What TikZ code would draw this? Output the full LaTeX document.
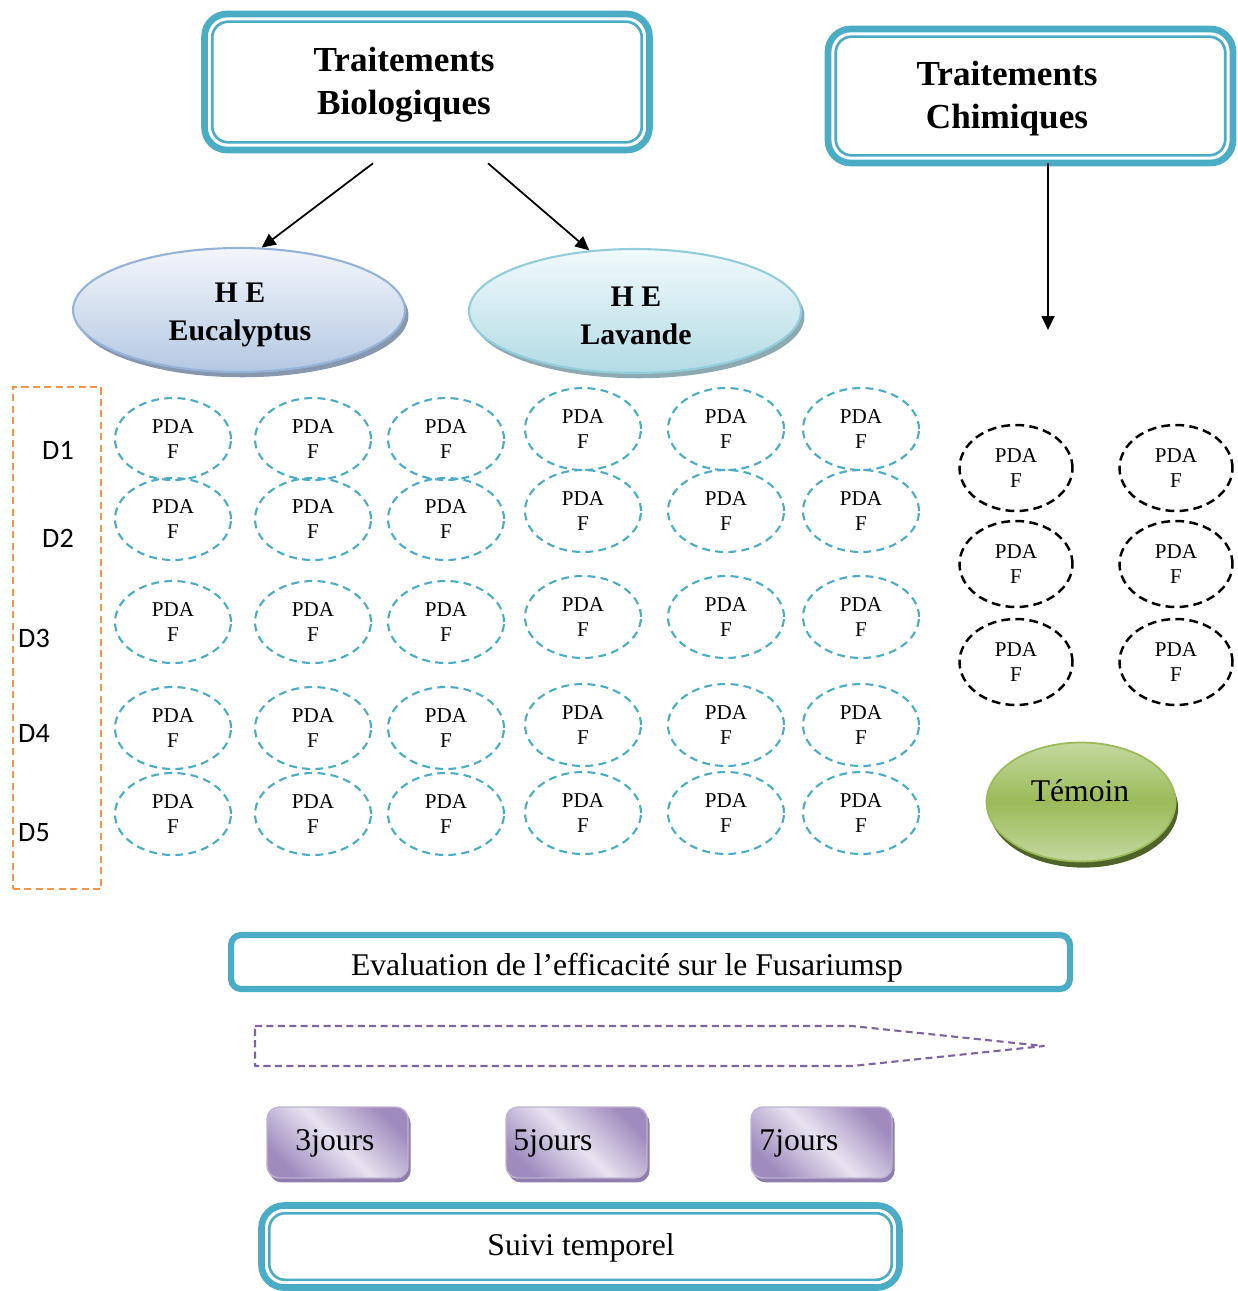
\documentclass[tikz,border=0pt]{standalone}
\usepackage{fontspec}
\setmainfont{Liberation Serif}
\newfontfamily\calibri{Carlito}
\usetikzlibrary{arrows.meta,calc,shadows,shapes.geometric}
\definecolor{tealline}{HTML}{4BACC6}
\definecolor{eucaborder}{HTML}{95B3D7}
\definecolor{eucatop}{HTML}{F3F6FB}
\definecolor{eucabot}{HTML}{B4C8E2}
\definecolor{eucashadow}{HTML}{8797AE}
\definecolor{lavborder}{HTML}{92CDDC}
\definecolor{lavtop}{HTML}{F1F9FB}
\definecolor{lavbot}{HTML}{B2DBE5}
\definecolor{lavshadow}{HTML}{8DA9B1}
\definecolor{greenmid}{HTML}{9BBB59}
\definecolor{greenlight}{HTML}{C4D89F}
\definecolor{greenshadow}{HTML}{4F6228}
\definecolor{orangeline}{HTML}{F79646}
\definecolor{purpleline}{HTML}{8064A2}
\definecolor{purpledark}{HTML}{9F8BBE}
\definecolor{purplelight}{HTML}{E8E3F0}
\definecolor{purpleborder}{HTML}{BFB3D1}
\definecolor{purpleshadow}{HTML}{8F7DAD}
\begin{document}
\begin{tikzpicture}[x=0.02cm, y=-0.02cm,
  bigbox/.style={draw=tealline, line width=3.8pt, rounded corners=4.5mm, fill=white, inner sep=0pt},
  innerline/.style={draw=tealline, line width=1.5pt, rounded corners=3.2mm},
  titletext/.style={align=center, font=\fontsize{20}{24.5}\selectfont\bfseries},
  heshape/.style={ellipse, inner sep=0pt, minimum width=66.4mm, minimum height=24.8mm, line width=1.2pt},
  hetext/.style={align=center, font=\fontsize{17}{21.5}\selectfont\bfseries},
  pdablue/.style={ellipse, draw=tealline, line width=1.2pt, dash pattern=on 4.5pt off 3pt, minimum width=23.2mm, minimum height=16.4mm, inner sep=0pt, align=center, font=\fontsize{12}{14.2}\selectfont},
  pdablack/.style={pdablue, draw=black, line width=1.4pt, dash pattern=on 5pt off 3pt, minimum width=22.6mm, minimum height=17.2mm},
  dlabel/.style={font=\calibri\fontsize{16}{18}\selectfont},
  plaintext/.style={font=\fontsize{18}{21}\selectfont},
  daybox/.style={rectangle, rounded corners=2.4mm, minimum width=28.2mm, minimum height=14.2mm, draw=purpleborder, line width=0.8pt, top color=purpledark, bottom color=purpledark, middle color=purplelight, shading angle=-45, drop shadow={fill=purpleshadow, opacity=1, shadow xshift=1.5pt, shadow yshift=-2.5pt}},
  arrow/.style={-{Triangle[length=2.8mm,width=2.6mm]}, line width=1pt}]
\useasboundingbox (0,0) rectangle (1237,1291);

% title boxes
\node[bigbox, minimum width=89mm, minimum height=27.2mm] (bio) at (427,82) {};
\draw[innerline] ($(bio.north west)+(11,11)$) rectangle ($(bio.south east)+(-11,-11)$);
\node[titletext] (biotext) at (404,85) {Traitements\\Biologiques};
\node[bigbox, minimum width=81mm, minimum height=26.8mm] (chim) at (1030.5,96) {};
\draw[innerline] ($(chim.north west)+(11,11)$) rectangle ($(chim.south east)+(-11,-11)$);
\node[titletext] (chimtext) at (1007,99) {Traitements\\Chimiques};

% essential oils
\node[heshape, draw=eucaborder, top color=eucatop, bottom color=eucabot,
  drop shadow={fill=eucashadow, opacity=1, shadow xshift=2pt, shadow yshift=-3pt}] (euca) at (239,310) {};
\node[hetext] (eucatext) at (240,315) {H E\\Eucalyptus};
\node[heshape, draw=lavborder, top color=lavtop, bottom color=lavbot,
  drop shadow={fill=lavshadow, opacity=1, shadow xshift=2pt, shadow yshift=-3pt}] (lav) at (635,311) {};
\node[hetext] (lavtext) at (636,316) {H E\\Lavande};
\coordinate (chimend) at (1048,330);
\draw[arrow] ($(bio.south)+(-54,10)$) -- (euca.70);
\draw[arrow] ($(bio.south)+(61,10)$) -- (lav.127);
\draw[arrow] ($(chim.south)+(17.5,-3)$) -- (chimend);

% doses
\node[draw=orangeline, line width=1.3pt, dash pattern=on 4pt off 2.5pt, minimum width=17.6mm, minimum height=100.4mm] (doses) at (57,638) {};
\node[dlabel] (d1) at (58,450) {D1};
\node[dlabel] (d2) at (58,538) {D2};
\node[dlabel] (d3) at (34,638) {D3};
\node[dlabel] (d4) at (34,733) {D4};
\node[dlabel] (d5) at (34,833) {D5};

% boites PDA
\foreach \x [count=\i] in {173,313,446}
  \foreach \y [count=\j] in {439,519,622,728,814}
    \node[pdablue] (e\i\j) at (\x,\y) {PDA\\F};
\foreach \x [count=\i from 4] in {583,726,861}
  \foreach \y [count=\j] in {429,511,617,725,813}
    \node[pdablue] (e\i\j) at (\x,\y) {PDA\\F};
\foreach \x [count=\i] in {1016,1176}
  \foreach \y [count=\j] in {468,564,662}
    \node[pdablack] (t\i\j) at (\x,\y) {PDA\\F};

% temoin
\node[ellipse, draw=greenmid, line width=1pt, minimum width=37.8mm, minimum height=23.8mm,
  top color=greenlight, bottom color=greenlight, middle color=greenmid,
  drop shadow={fill=greenshadow, opacity=1, shadow xshift=1.5pt, shadow yshift=-3.5pt}] (temoin) at (1081,802) {};
\node[plaintext] (temointext) at (1080,791) {Témoin};

% evaluation
\node[draw=tealline, line width=3.5pt, rounded corners=2mm, fill=white, minimum width=167.8mm, minimum height=10.8mm] (eval) at (650.5,962) {};
\node[plaintext] (evaltext) at (627,968) {Evaluation de l’efficacité sur le Fusariumsp};
\draw[purpleline, line width=1.2pt, line join=round, dash pattern=on 4pt off 2.5pt] (255,1026) -- (852,1026) -- (1044,1046) -- (852,1066) -- (255,1066) -- cycle;

% jours
\node[daybox] (j3) at (337.5,1142.5) {};
\node[daybox] (j5) at (576.5,1142.5) {};
\node[daybox] (j7) at (821.5,1142.5) {};
\node[plaintext] (j3text) at (335,1143) {3jours};
\node[plaintext] (j5text) at (553,1143) {5jours};
\node[plaintext] (j7text) at (799,1143) {7jours};

% suivi
\node[bigbox, minimum width=127.6mm, minimum height=16.4mm] (suivi) at (580.5,1246.5) {};
\draw[innerline] ($(suivi.north west)+(11,11)$) rectangle ($(suivi.south east)+(-11,-11)$);
\node[plaintext] (suivitext) at (581,1248) {Suivi temporel};
\end{tikzpicture}
\end{document}
